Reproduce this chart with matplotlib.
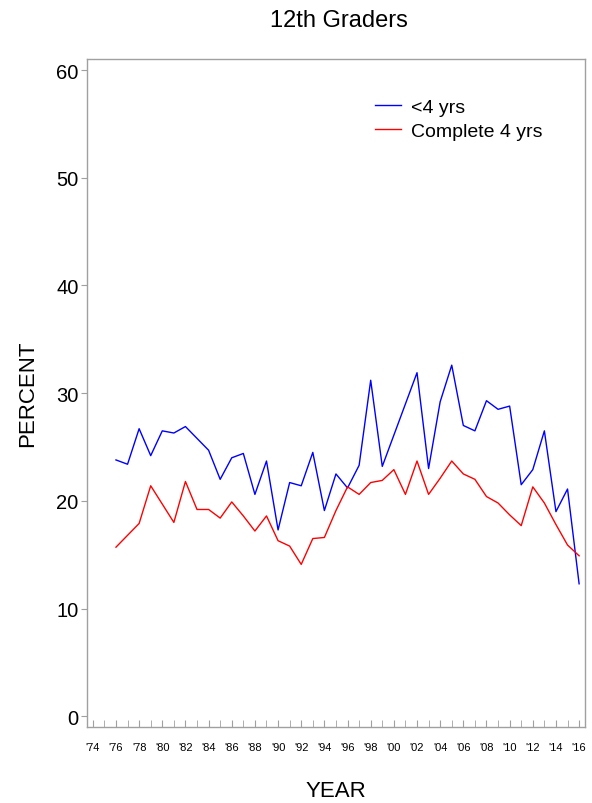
import numpy as np
import matplotlib
matplotlib.use("Agg")
import matplotlib.pyplot as plt

plt.rcParams['font.family'] = ['Liberation Sans', 'DejaVu Sans']

years = np.arange(1976, 2017)
less_4yrs = [23.8, 23.4, 26.7, 24.2, 26.5, 26.3, 26.9, 25.8, 24.7, 22.0,
             24.0, 24.4, 20.6, 23.7, 17.3, 21.7, 21.4, 24.5, 19.1, 22.5,
             21.2, 23.3, 31.2, 23.2, 26.1, 29.0, 31.9, 23.0, 29.2, 32.6,
             27.0, 26.5, 29.3, 28.5, 28.8, 21.5, 22.9, 26.5, 19.0, 21.1,
             12.3]
complete_4yrs = [15.7, 16.8, 17.9, 21.4, 19.7, 18.0, 21.8, 19.2, 19.2, 18.4,
                 19.9, 18.6, 17.2, 18.6, 16.3, 15.8, 14.1, 16.5, 16.6, 19.1,
                 21.3, 20.6, 21.7, 21.9, 22.9, 20.6, 23.7, 20.6, 22.1, 23.7,
                 22.5, 22.0, 20.4, 19.8, 18.7, 17.7, 21.3, 19.8, 17.8, 15.9,
                 14.9]
tick_years = np.arange(1974, 2017, 2)
tick_labels = ["'%02d" % (y % 100) for y in tick_years]

fig = plt.figure(figsize=(5.92, 8.04), dpi=100)
ax = fig.add_axes([0.147, 0.0945, 0.841, 0.8305])

ax.plot(years, less_4yrs, color='#0000ff', lw=1.0, label='<4 yrs')
ax.plot(years, complete_4yrs, color='#ff0000', lw=1.0, label='Complete 4 yrs')

ax.set_xlim(1973.5, 2016.5)
ax.set_ylim(-1, 61)

for s in ax.spines.values():
    s.set_color('#a0a0a0')
    s.set_linewidth(1.0)

ax.set_yticks([0, 10, 20, 30, 40, 50, 60])
ax.tick_params(axis='y', direction='out', length=4, color='#a0a0a0',
               labelsize=14.5, pad=2)
ax.set_xticks(tick_years)
ax.set_xticklabels(tick_labels)
ax.set_xticks(np.arange(1974, 2017), minor=True)
ax.tick_params(axis='x', which='both', direction='in', length=5,
               color='#a0a0a0', labelsize=8, pad=10.5)

ax.set_title('12th Graders', fontsize=17, pad=24, x=0.506)
ax.set_xlabel('YEAR', fontsize=16, labelpad=20.5)
ax.set_ylabel('PERCENT', fontsize=16, labelpad=13)

ax.legend(loc='upper left', bbox_to_anchor=(0.578, 0.942), frameon=False,
          fontsize=14, handlelength=1.34, handletextpad=0.5, labelspacing=0.36,
          borderpad=0, borderaxespad=0)

fig.savefig('out.png', dpi=100)
